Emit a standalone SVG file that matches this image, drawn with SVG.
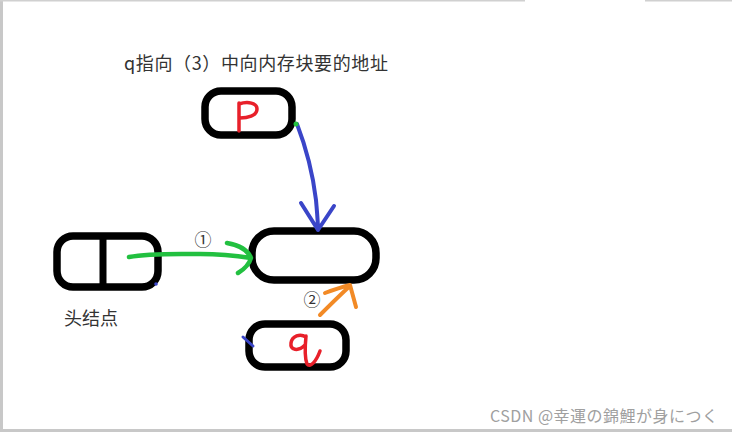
<svg xmlns="http://www.w3.org/2000/svg" width="732" height="432" viewBox="0 0 732 432">
<style>
.box{fill:#fff;stroke:#000;stroke-width:7.5}
.ink{fill:none;stroke-linecap:round;stroke-linejoin:round}
.txt{font-family:"Noto Sans CJK SC","Noto Sans",sans-serif;fill:#333}
.red{fill:none;stroke:#e8202a;stroke-width:3.5;stroke-linecap:round;stroke-linejoin:round}
</style>
<rect width="732" height="432" fill="#fff"/>
<g id="frame">
<rect x="0" y="0" width="3" height="432" fill="#c8c8c8"/>
<rect x="0" y="429" width="732" height="3" fill="#c8c8c8"/>
<rect x="0" y="0" width="525" height="1.5" fill="#d0d0d0"/>
<rect x="645" y="0" width="87" height="1.5" fill="#d0d0d0"/>
</g>
<text class="txt" x="124" y="70" font-size="18" textLength="264">q指向（3）中向内存块要的地址</text>
<g id="node-p">
<rect class="box" x="205" y="91" width="87" height="44" rx="16"/>
<path class="red" d="M239,103 L239,131 M239,104 C248,101 257,103 257,109 C257,116 247,118 240,118"/>
</g>
<g id="node-head">
<rect class="box" x="57" y="236" width="101" height="51" rx="16"/>
<line x1="103" y1="236" x2="103" y2="287" stroke="#000" stroke-width="7"/>
<circle cx="156" cy="284" r="1.8" fill="#3a45c8"/>
<text class="txt" x="64" y="325" font-size="18">头结点</text>
</g>
<g id="node-mid">
<rect class="box" x="252" y="231" width="124" height="49" rx="22"/>
</g>
<g id="node-q">
<rect class="box" x="249" y="324" width="97" height="43" rx="16"/>
<path class="red" d="M306,337 C300,333 292,336 291,343 C290,350 298,352 305,345 M306,336 C305,346 304,356 307,364 C310,368 316,362 320,351"/>
<line x1="243" y1="337" x2="253" y2="346" stroke="#3a45c8" stroke-width="3" stroke-linecap="round"/>
</g>
<g id="connectors">
<path class="ink" stroke="#3a45c8" stroke-width="4" d="M297,124 C307,150 313,175 316,200 C317,212 318,222 318,230 M301,203 L318,230 L334,206"/>
<circle cx="296" cy="124" r="2.5" fill="#22c040"/>
<path class="ink" stroke="#22c040" stroke-width="4.5" d="M129,257 C150,253 175,254 200,254 C220,254 238,256 251,258 M227,243 C238,245 248,250 251,258 C249,265 243,270 238,273"/>
<text class="txt" x="203" y="246" font-size="17" text-anchor="middle">①</text>
<text class="txt" x="312" y="306" font-size="17" text-anchor="middle">②</text>
<path class="ink" stroke="#f28a26" stroke-width="4" d="M320,315 C330,305 340,295 350,286 M325,293 C333,290 342,287 350,285 L356,307"/>
</g>
<text x="490" y="422" font-size="16" fill="#a0a0a0" font-family="'Noto Sans CJK JP','Noto Sans',sans-serif" textLength="228">CSDN @幸運の錦鯉が身につく</text>
</svg>
